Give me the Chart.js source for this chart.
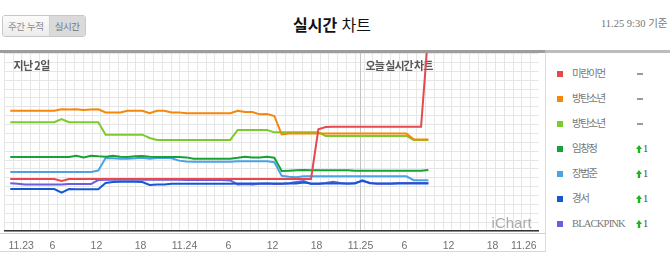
<!DOCTYPE html>
<html lang="ko">
<head>
<meta charset="utf-8">
<title>실시간 차트</title>
<script src="https://cdn.jsdelivr.net/npm/chart.js@4.4.1/dist/chart.umd.min.js"></script>
<style>
  html, body { margin: 0; padding: 0; background: #fff; }
  body { width: 670px; height: 255px; position: relative; overflow: hidden;
         font-family: "Noto Sans CJK KR", "Noto Sans", sans-serif; }
  .tabs { position: absolute; left: 2px; top: 15px; height: 20px; display: flex;
          border: 1px solid #c8c8c8; border-radius: 3px; overflow: hidden;
          font-size: 9.5px; line-height: 20px; color: #8a8a8a; letter-spacing: -0.4px; }
  .tabs span { display: block; padding: 0 5px; }
  .tabs .off { background: linear-gradient(#fbfbfb, #ececec); border-right: 1px solid #d2d2d2; }
  .tabs .on { background: #dadada; color: #777; }
  .title { position: absolute; left: 0; width: 664px; top: 11px; text-align: center;
           font-size: 16px; line-height: 26px; color: #111; white-space: nowrap; }
  .title b { font-weight: 700; }
  .title span { font-weight: 400; }
  .stamp { position: absolute; left: 601px; top: 15px; font-size: 10.5px; line-height: 18px;
           color: #777; white-space: nowrap;
           font-family: "Liberation Serif", "Noto Sans CJK KR", serif; }
  #plot { position: absolute; left: 0; top: 51px; width: 545px; height: 202px; }
  .bar { position: absolute; top: 50px; height: 3px; z-index: 3; }
  .bar.l { left: 0; width: 545px; background: #9d9d9d; }
  .bar.r { left: 545px; width: 125px; background: #bcbcbc; }
  .rule { position: absolute; background: #cfcfcf; z-index: 2; }
  .legend .row { position: absolute; left: 557px; height: 14px; line-height: 14px;
                 font-size: 10.5px; color: #777; white-space: nowrap;
                 font-family: "Liberation Serif", "Noto Sans CJK KR", serif; }
  .legend i { position: absolute; left: 0; top: 4px; width: 6px; height: 6px; }
  .legend .nm { position: absolute; left: 15px; top: 0; }
  .legend .dash { position: absolute; left: 80px; top: 6px; width: 6px; height: 2px; background: #9a9a9a; }
  .legend .up { position: absolute; left: 79px; top: 3px; }
  .legend .num { position: absolute; left: 86px; top: 0; color: #444; }
</style>
</head>
<body>
  <div class="tabs"><span class="off">주간 누적</span><span class="on">실시간</span></div>
  <div class="title"><b>실시간</b><span> 차트</span></div>
  <div class="stamp">11.25 9:30 기준</div>

  <div class="bar l"></div>
  <div class="bar r"></div>
  <div id="plot"><canvas id="chart" width="545" height="202"></canvas></div>
  <div class="rule" style="left:0;top:233px;width:545px;height:1px;"></div>
  <div class="rule" style="left:0;top:251px;width:545px;height:1px;background:#d6d6d6;"></div>
  <div class="rule" style="left:545px;top:53px;width:1px;height:199px;background:#dcdcdc;"></div>
  <div class="legend" id="legend"></div>

<script>
// Hours since 11.23 00:00 at which each ranking score was sampled
const sampleHours = [
  0.25, 1.25, 2.25, 3.25, 4.25, 5.25, 6.25, 7.25, 8.25, 9.25,
  10.25, 11.25, 12.25, 13.25, 14.25, 15.25, 16.25, 17.25, 18.25, 19.25,
  20.25, 21.25, 22.25, 23.25, 24.25, 25.25, 26.25, 27.25, 28.25, 29.25,
  30.25, 31.25, 32.25, 33.25, 34.25, 35.25, 36.25, 37.25, 38.25, 39.25,
  40.25, 41.25, 42.25, 43.25, 44.25, 45.25, 46.25, 47.25, 48.25, 49.25,
  50.25, 51.25, 52.25, 53.25, 54.25, 55.25, 56.25, 57.25
];

// Axis ticks: every six hours across three days
const tickHours = [0, 6, 12, 18, 24, 30, 36, 42, 48, 54, 60, 66, 72];
const tickLabels = ['11.23', '6', '12', '18', '11.24', '6', '12', '18', '11.25', '6', '12', '18', '11.26'];
const todayHour = 48;

// Songs, in chart order
const seriesNames = ['미란이먼', '방탄소년', '방탄소년', '임창정', '장범준', '경서', 'BLACKPINK'];
const seriesColors = ['#e5484d', '#f5870a', '#7dcb2a', '#16a236', '#4ba3e3', '#1458d2', '#6b5ce0'];
const rankChange = ['-', '-', '-', '1', '1', '1', '1'];

// Score per sample, one array per song
const miranScore = [
  28.9, 28.9, 28.9, 28.9, 28.9, 28.9, 28.9, 27.8, 28.9, 28.9,
  28.9, 28.9, 28.9, 28.9, 28.9, 28.9, 28.9, 28.9, 28.9, 28.9,
  28.9, 28.9, 28.9, 28.9, 28.9, 28.9, 28.9, 28.9, 28.9, 28.9,
  28.9, 28.9, 28.9, 28.9, 28.9, 28.9, 28.9, 28.9, 28.9, 28.9,
  28.9, 28.9, 56.5, 57.8, 57.9, 57.9, 57.9, 57.9, 57.9, 57.9,
  57.9, 57.9, 57.9, 57.9, 57.9, 57.9, 57.9, 111
];
const btsAScore = [
  66.8, 66.8, 66.8, 66.8, 66.8, 66.8, 66.8, 67.6, 67.5, 67.6,
  67.2, 67.5, 67.6, 65.9, 65.9, 65.9, 66.8, 66.8, 66.8, 65.4,
  66.8, 66.8, 65.9, 65.9, 65.4, 65.4, 65.4, 65.4, 65.4, 65.4,
  65.4, 66.8, 66.1, 66.1, 64.8, 65.0, 63.9, 53.7, 54.1, 54.1,
  54.1, 54.1, 54.1, 54.1, 54.1, 54.1, 54.1, 54.1, 54.1, 54.1,
  54.1, 54.1, 54.1, 54.1, 54.1, 50.9, 50.9, 50.9
];
const btsBScore = [
  60.4, 60.4, 60.4, 60.4, 60.4, 60.4, 60.4, 62.2, 60.4, 60.4,
  60.4, 60.4, 60.4, 53.5, 53.5, 53.5, 53.5, 53.5, 53.5, 51.7,
  50.6, 50.6, 50.6, 50.6, 50.6, 50.6, 50.6, 50.6, 50.6, 50.6,
  50.6, 56.1, 56.1, 56.1, 56.1, 56.1, 54.8, 54.8, 54.8, 54.8,
  54.8, 54.8, 54.8, 52.8, 52.8, 52.8, 52.8, 52.8, 52.8, 52.8,
  52.8, 52.8, 52.8, 52.8, 52.8, 50.6, 50.6, 50.6
];
const limScore = [
  41.1, 41.1, 41.1, 41.1, 41.1, 41.1, 41.1, 41.1, 41.1, 41.8,
  40.9, 41.8, 41.5, 41.3, 41.8, 41.3, 41.1, 41.5, 41.7, 41.3,
  41.1, 41.1, 41.1, 41.1, 40.9, 40.2, 40.2, 40.2, 40.2, 40.2,
  40.2, 40.7, 41.3, 40.8, 40.9, 41.3, 40.7, 33.3, 33.5, 33.7,
  33.9, 33.7, 33.7, 33.7, 33.7, 33.7, 33.7, 33.5, 33.5, 33.5,
  33.5, 33.5, 33.5, 33.5, 33.5, 33.5, 33.5, 33.9
];
const jangScore = [
  32.8, 32.8, 32.8, 32.8, 32.8, 32.8, 32.8, 32.8, 32.8, 32.8,
  32.8, 32.8, 33.6, 40.6, 40.4, 40.2, 40.2, 40.4, 40.7, 40.2,
  40.6, 40.7, 40.4, 39.1, 38.6, 38.5, 38.5, 38.5, 38.5, 38.5,
  38.5, 38.7, 38.7, 38.7, 38.7, 38.7, 38.2, 30.7, 30.2, 29.8,
  30.4, 30.4, 30.4, 30.4, 30.4, 30.4, 30.4, 30.4, 30.4, 30.4,
  30.4, 30.4, 30.4, 30.4, 30.4, 28.2, 28.2, 28.2
];
const gyeongseoScore = [
  23.3, 23.3, 23.3, 23.3, 23.3, 23.3, 23.3, 21.3, 23.3, 23.2,
  23.2, 23.2, 23.2, 26.7, 27.2, 27.4, 27.4, 27.4, 27.2, 25.6,
  25.9, 25.9, 26.3, 26.3, 26.3, 26.3, 26.3, 26.3, 26.3, 26.3,
  26.3, 26.4, 26.4, 26.4, 26.4, 26.4, 26.4, 26.4, 26.4, 26.4,
  26.9, 26.4, 26.4, 26.4, 26.4, 26.4, 26.4, 26.4, 28.1, 26.5,
  26.4, 26.4, 26.4, 26.4, 26.4, 26.4, 26.4, 26.4
];
const blackpinkScore = [
  26.5, 26.3, 25.9, 25.9, 25.9, 25.9, 25.9, 25.8, 26.1, 26.1,
  26.1, 26.1, 28.3, 28.5, 28.5, 28.5, 28.5, 28.5, 28.5, 28.5,
  28.5, 28.5, 28.5, 28.5, 28.3, 28.3, 28.3, 28.3, 28.3, 28.3,
  28.1, 25.9, 26.1, 25.9, 26.3, 26.4, 26.1, 26.1, 26.5, 27.2,
  27.8, 26.1, 26.1, 26.7, 27.4, 26.7, 26.3, 26.7, 27.8, 26.8,
  26.3, 26.3, 26.3, 26.7, 26.7, 26.7, 26.7, 26.7
];
const seriesValues = [miranScore, btsAScore, btsBScore, limScore, jangScore, gyeongseoScore, blackpinkScore];

// Background paper grid (cell counts across the plot)
const gridCols = 60.9;
const gridRows = 20.29;

const range = (n) => Array.from({ length: Math.floor(n) + 1 }, (_, i) => ({ value: i }));

// Section captions and watermark drawn under the lines
const captions = {
  id: 'captions',
  beforeDatasetsDraw(chart) {
    const { ctx, chartArea, scales } = chart;
    ctx.save();
    ctx.textBaseline = 'middle';
    ctx.textAlign = 'left';
    ctx.fillStyle = '#585858';
    ctx.font = 'bold 11px "Noto Sans CJK KR", sans-serif';
    if ('letterSpacing' in ctx) ctx.letterSpacing = '-0.6px';
    ctx.fillText('지난 2일', chartArea.left + 9, chartArea.top + 15);
    if ('letterSpacing' in ctx) ctx.letterSpacing = '-1px';
    ctx.fillText('오늘 실시간 차트', scales.x.getPixelForValue(todayHour) + 5, chartArea.top + 15);
    if ('letterSpacing' in ctx) ctx.letterSpacing = '0px';
    ctx.textAlign = 'right';
    ctx.textBaseline = 'alphabetic';
    ctx.fillStyle = '#ababab';
    ctx.font = '15px "Liberation Sans", Arial, sans-serif';
    ctx.fillText('iChart', chartArea.right - 7, chartArea.bottom - 3);
    ctx.restore();
  }
};

const chart = new Chart(document.getElementById('chart'), {
  type: 'line',
  data: {
    datasets: seriesNames.map((name, i) => ({
      label: name,
      data: sampleHours.map((h, k) => ({ x: h, y: seriesValues[i][k] })),
      borderColor: seriesColors[i],
      backgroundColor: seriesColors[i],
      borderWidth: 2,
      pointRadius: 0,
      tension: 0,
      fill: false,
      xAxisID: 'x',
      yAxisID: 'y'
    }))
  },
  options: {
    responsive: false,
    animation: false,
    devicePixelRatio: 1,
    layout: { padding: 0 },
    plugins: { legend: { display: false }, tooltip: { enabled: false } },
    scales: {
      x: {
        type: 'linear', axis: 'x', position: 'bottom',
        min: -0.55, max: 72.28,
        afterBuildTicks: (s) => { s.ticks = tickHours.map(v => ({ value: v })); },
        afterFit: (s) => { s.height = 22; },
        ticks: {
          callback: (v, i) => tickLabels[i],
          align: 'inner', autoSkip: false, maxRotation: 0, padding: 8.4,
          color: '#707070', font: { family: '"Liberation Sans", Arial, sans-serif', size: 10.5 }
        },
        grid: {
          drawTicks: false, z: -0.5, lineWidth: 1,
          color: (c) => (c.tick && c.tick.value === todayHour ? '#c4c4c4' : 'rgba(0,0,0,0)')
        },
        border: { display: true, color: '#333', width: 1.5 }
      },
      y: {
        type: 'linear', axis: 'y', position: 'left', min: 0, max: 100,
        afterFit: (s) => { s.width = 0; },
        ticks: { display: false },
        grid: { display: false, drawTicks: false },
        border: { display: false }
      },
      gx: {
        type: 'linear', axis: 'x', position: 'top', min: 0, max: gridCols,
        afterBuildTicks: (s) => { s.ticks = range(gridCols); },
        afterFit: (s) => { s.height = 0; },
        ticks: { display: false, autoSkip: false },
        grid: { drawTicks: false, color: '#e6e6e6', lineWidth: 1 },
        border: { display: false }
      },
      gy: {
        type: 'linear', axis: 'y', position: 'left', min: 0, max: gridRows,
        afterBuildTicks: (s) => { s.ticks = range(gridRows); },
        afterFit: (s) => { s.width = 0; },
        ticks: { display: false, autoSkip: false },
        grid: { drawTicks: false, color: '#e6e6e6', lineWidth: 1 },
        border: { display: false }
      }
    }
  },
  plugins: [captions]
});

// Side legend with rank movement
const legend = document.getElementById('legend');
chart.data.datasets.forEach((ds, i) => {
  const row = document.createElement('div');
  row.className = 'row';
  row.style.top = (67 + i * 25) + 'px';
  const sw = document.createElement('i');
  sw.style.background = ds.borderColor;
  row.appendChild(sw);
  const nm = document.createElement('span');
  nm.className = 'nm';
  nm.textContent = ds.label;
  nm.style.letterSpacing = /[A-Z]/.test(ds.label) ? '-0.8px' : '-1.5px';
  row.appendChild(nm);
  if (rankChange[i] === '-') {
    const d = document.createElement('span');
    d.className = 'dash';
    row.appendChild(d);
  } else {
    const up = document.createElementNS('http://www.w3.org/2000/svg', 'svg');
    up.setAttribute('class', 'up');
    up.setAttribute('width', '6');
    up.setAttribute('height', '8');
    up.innerHTML = '<polygon points="3,0 6,4 4.2,4 4.2,8 1.8,8 1.8,4 0,4" fill="#1fb31f"/>';
    row.appendChild(up);
    const n = document.createElement('span');
    n.className = 'num';
    n.textContent = rankChange[i];
    row.appendChild(n);
  }
  legend.appendChild(row);
});
</script>
</body>
</html>
